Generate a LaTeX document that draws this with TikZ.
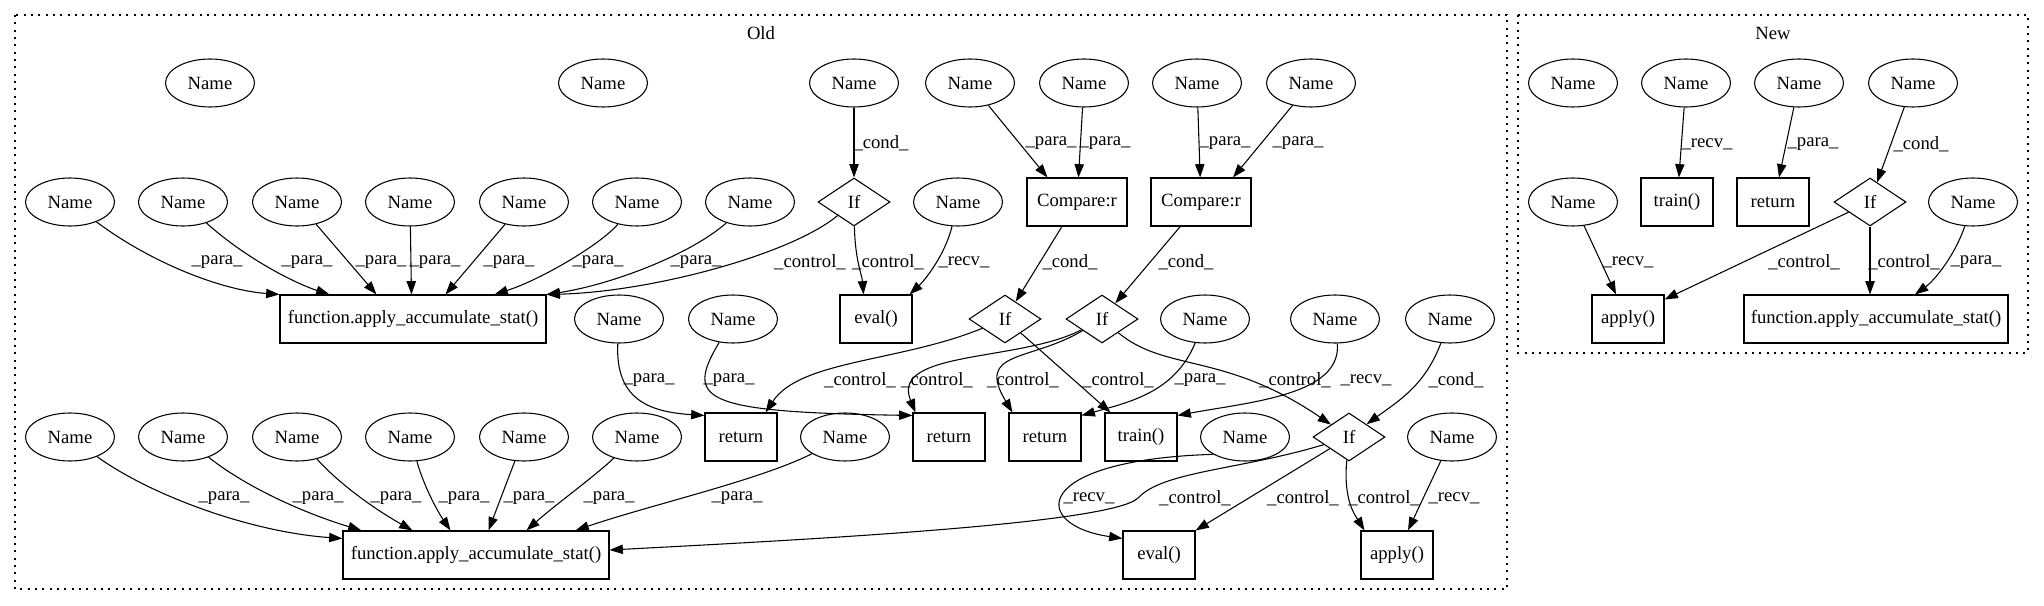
\documentclass[tikz,border=0pt]{standalone}
\usepackage{fontspec}
\setmainfont{Liberation Serif}
\usetikzlibrary{shapes.geometric,arrows.meta,calc}
\begin{document}
\begin{tikzpicture}[x=0.75pt,y=-0.75pt,line width=0.8pt,
  font=\fontsize{14}{16.8}\selectfont,
  nm/.style={ellipse,draw,minimum width=66.75pt,minimum height=36pt,inner sep=0pt},
  bx/.style={rectangle,draw,minimum width=54pt,minimum height=36pt,inner sep=0pt},
  dm/.style={diamond,draw,minimum width=54pt,minimum height=36pt,inner sep=0pt,aspect=1.5},
  lbl/.style={inner sep=0pt},
  edg/.style={draw,-{Triangle[length=10pt,width=7pt]}},
  clus/.style={draw,dash pattern=on 1.5pt off 4pt}]
\useasboundingbox (0,0) rectangle (2044,606);
% clusters
\draw[clus] (15,15) rectangle (1507,589);
\node (oldlbl) at (761,33) {Old};
\draw[clus] (1518,15) rectangle (2028,353);
\node (newlbl) at (1773,33) {New};
% ---- Old: row 1
\node[nm] (o1) at (210,83) {Name};
\node[nm] (o2) at (603,83) {Name};
\node[nm] (c0) at (854,83) {Name};
\node[nm] (p1) at (970,83) {Name};
\node[nm] (p2) at (1084,83) {Name};
\node[nm] (p3) at (1197,83) {Name};
\node[nm] (p4) at (1311,83) {Name};
% row 2
\node[nm] (a1) at (70,202) {Name};
\node[nm] (a2) at (183,202) {Name};
\node[nm] (a3) at (297,202) {Name};
\node[nm] (a4) at (410,202) {Name};
\node[nm] (a5) at (524,202) {Name};
\node[nm] (a6) at (637,202) {Name};
\node[nm] (a7) at (750,202) {Name};
\node[dm] (if1) at (854,202) {If};
\node[nm] (nr) at (958,202) {Name};
\node[bx,minimum width=75pt] (cmp1) at (1077,202) {Compare:r};
\node[bx,minimum width=75pt] (cmp2) at (1201,202) {Compare:r};
% row 3
\node[bx,minimum width=199.5pt] (fb1) at (413,319) {function.apply\_accumulate\_stat()};
\node[nm] (b1) at (619,319) {Name};
\node[nm] (b2) at (733,319) {Name};
\node[bx] (ev1) at (876,319) {eval()};
\node[dm] (if2) at (1005,319) {If};
\node[dm] (if3) at (1102,319) {If};
\node[nm] (q1) at (1205,319) {Name};
\node[nm] (q2) at (1335,319) {Name};
\node[nm] (q3) at (1450,319) {Name};
% row 4
\node[nm] (d1) at (70,437) {Name};
\node[nm] (d2) at (183,437) {Name};
\node[nm] (d3) at (297,437) {Name};
\node[nm] (d4) at (410,437) {Name};
\node[nm] (d5) at (524,437) {Name};
\node[nm] (d6) at (637,437) {Name};
\node[bx] (r1) at (741,437) {return};
\node[nm] (d7) at (845,437) {Name};
\node[bx] (r2) at (949,437) {return};
\node[bx] (r3) at (1045,437) {return};
\node[bx] (tr) at (1141,437) {train()};
\node[nm] (e1) at (1245,437) {Name};
\node[dm] (if4) at (1349,437) {If};
\node[nm] (e2) at (1452,437) {Name};
% row 5
\node[bx,minimum width=199.5pt] (fb2) at (476,555) {function.apply\_accumulate\_stat()};
\node[bx] (ev2) at (1159,555) {eval()};
\node[bx] (ap) at (1397,555) {apply()};
% ---- New
\node[nm] (n1) at (1573,83) {Name};
\node[nm] (n2) at (1686,83) {Name};
\node[nm] (n3) at (1799,83) {Name};
\node[nm] (n4) at (1913,83) {Name};
\node[nm] (n5) at (1573,202) {Name};
\node[bx] (ntr) at (1677,202) {train()};
\node[bx] (nret) at (1773,202) {return};
\node[dm] (nif) at (1870,202) {If};
\node[nm] (n6) at (1973,202) {Name};
\node[bx] (nap) at (1628,319) {apply()};
\node[bx,minimum width=198pt] (nfb) at (1876,319) {function.apply\_accumulate\_stat()};
% ---- Old edges row1 -> row2
\draw[edg] (c0) -- (if1) node[lbl] at (881,143) {\_cond\_};
\draw[edg] (p1) -- ($(cmp1.north west)+(21,0)$) node[lbl] at (1051,143) {\_para\_};
\draw[edg] (p2) -- (cmp1) node[lbl] at (1105,143) {\_para\_};
\draw[edg] (p3) -- (cmp2) node[lbl] at (1225,143) {\_para\_};
\draw[edg] (p4) -- ($(cmp2.north)+(32,0)$) node[lbl] at (1298,143) {\_para\_};
% row2 -> row3
\draw[edg] (a1) .. controls (150,262) and (220,290) .. (fb1.north west) node[lbl] at (217,262) {\_para\_};
\draw[edg] (a2) .. controls (250,262) and (300,285) .. ($(fb1.north west)+(50,0)$) node[lbl] at (307,262) {\_para\_};
\draw[edg] (a3) -- ($(fb1.north west)+(97,0)$) node[lbl] at (381,262) {\_para\_};
\draw[edg] (a4) -- ($(fb1.north west)+(132,0)$) node[lbl] at (435,262) {\_para\_};
\draw[edg] (a5) -- ($(fb1.north west)+(166,0)$) node[lbl] at (509,262) {\_para\_};
\draw[edg] (a6) .. controls (600,245) and (540,280) .. ($(fb1.north west)+(215,0)$) node[lbl] at (598,262) {\_para\_};
\draw[edg] (a7) .. controls (690,255) and (610,285) .. (fb1.north east) node[lbl] at (696,262) {\_para\_};
\draw[edg] (if1) .. controls (790,255) and (650,292) .. (fb1.north east) node[lbl] at (810,262) {\_control\_};
\draw[edg] (if1) .. controls (855,260) and (862,275) .. ($(ev1.north west)+(24,0)$) node[lbl] at (888,262) {\_control\_};
\draw[edg] (nr) .. controls (945,255) and (925,280) .. ($(ev1.north east)+(-3,0)$) node[lbl] at (964,262) {\_recv\_};
\draw[edg] (cmp1) -- (if2) node[lbl] at (1070,262) {\_cond\_};
\draw[edg] (cmp2) -- (if3) node[lbl] at (1186,262) {\_cond\_};
% row3 -> row4
\draw[edg] (b1) .. controls (615,400) and (650,412) .. ($(r1.north west)+(0,3)$) node[lbl] at (649,380) {\_para\_};
\draw[edg] (b2) .. controls (685,400) and (700,412) .. ($(r2.north west)+(0,3)$) node[lbl] at (729,380) {\_para\_};
\draw[edg] (if2) .. controls (900,362) and (800,360) .. ($(r1.north east)+(-12,0)$) node[lbl] at (860,380) {\_control\_};
\draw[edg] (if3) .. controls (1020,362) and (890,350) .. ($(r2.north west)+(3,0)$) node[lbl] at (937,380) {\_control\_};
\draw[edg] (if3) .. controls (1030,362) and (975,350) .. ($(r3.north west)+(4,0)$) node[lbl] at (1023,380) {\_control\_};
\draw[edg] (if2) -- ($(tr.north west)+(6,0)$) node[lbl] at (1118,380) {\_control\_};
\draw[edg] (q1) .. controls (1175,392) and (1130,402) .. ($(r3.north east)+(0,3)$) node[lbl] at (1200,380) {\_para\_};
\draw[edg] (q2) .. controls (1342,395) and (1250,402) .. ($(tr.north east)+(0,3)$) node[lbl] at (1366,380) {\_recv\_};
\draw[edg] (if3) .. controls (1165,372) and (1225,352) .. (if4) node[lbl] at (1295,380) {\_control\_};
\draw[edg] (q3) .. controls (1425,385) and (1400,400) .. (if4) node[lbl] at (1456,380) {\_cond\_};
% row4 -> row5
\draw[edg] (d1) .. controls (150,495) and (250,532) .. ($(fb2.north west)+(0,8)$) node[lbl] at (224,498) {\_para\_};
\draw[edg] (d2) .. controls (250,490) and (310,515) .. ($(fb2.north west)+(19,0)$) node[lbl] at (318,498) {\_para\_};
\draw[edg] (d3) .. controls (345,490) and (385,515) .. ($(fb2.north west)+(70,0)$) node[lbl] at (396,498) {\_para\_};
\draw[edg] (d4) .. controls (425,490) and (440,515) .. ($(fb2.north west)+(108,0)$) node[lbl] at (464,498) {\_para\_};
\draw[edg] (d5) -- ($(fb2.north west)+(146,0)$) node[lbl] at (529,498) {\_para\_};
\draw[edg] (d6) .. controls (590,480) and (555,505) .. ($(fb2.north west)+(184,0)$) node[lbl] at (609,498) {\_para\_};
\draw[edg] (d7) .. controls (760,480) and (650,505) .. ($(fb2.north west)+(233,0)$) node[lbl] at (737,498) {\_para\_};
\draw[edg] (if4) .. controls (1240,470) and (1163,471) .. (1138,498) .. controls (1112,524) and (800,540) .. ($(fb2.east)+(0,-5)$) node[lbl] at (1195,498) {\_control\_};
\draw[edg] (e1.south west) .. controls (1030,460) and (1030,525) .. ($(ev2.north west)+(0,8)$) node[lbl] at (1089,498) {\_recv\_};
\draw[edg] (if4) -- (ev2.north east) node[lbl] at (1303,498) {\_control\_};
\draw[edg] (if4) .. controls (1343,500) and (1355,515) .. ($(ap.north west)+(4,0)$) node[lbl] at (1384,498) {\_control\_};
\draw[edg] (e2) -- ($(ap.north)+(11,0)$) node[lbl] at (1454,498) {\_recv\_};
% ---- New edges
\draw[edg] (n2) -- (ntr) node[lbl] at (1707,144) {\_recv\_};
\draw[edg] (n3) -- ($(nret.north)+(6,0)$) node[lbl] at (1813,144) {\_para\_};
\draw[edg] (n4) -- (nif) node[lbl] at (1921,144) {\_cond\_};
\draw[edg] (n5) -- ($(nap.north)+(-12,0)$) node[lbl] at (1628,262) {\_recv\_};
\draw[edg] (nif) -- ($(nap.north east)+(0,5)$) node[lbl] at (1804,262) {\_control\_};
\draw[edg] (nif) -- (nif |- nfb.north) node[lbl] at (1904,262) {\_control\_};
\draw[edg] (n6) .. controls (1955,255) and (1935,280) .. ($(nfb.north)+(39,0)$) node[lbl] at (1976,262) {\_para\_};
\end{tikzpicture}
\end{document}
